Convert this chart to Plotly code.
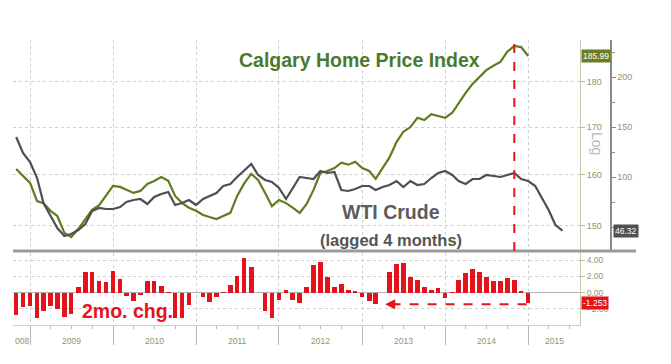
import math
import pandas as pd
import plotly.graph_objects as go

# ---------------- data ----------------
months = pd.date_range("2008-11-01", periods=80, freq="MS")   # Nov 2008 .. Jun 2015

home_price = [161.2, 159.8, 158.4, 154.8, 154.4, 152.9, 151.9, 148.7, 147.9, 149.4,
              151.3, 153.1, 154.0, 155.8, 157.8, 157.6, 157.0, 156.4, 156.8, 158.2,
              158.8, 159.6, 158.8, 155.8, 154.4, 153.5, 152.9, 152.1, 151.7, 151.3,
              151.9, 152.5, 155.8, 158.3, 160.2, 159.0, 156.4, 153.8, 155.0, 154.4,
              153.5, 152.5, 154.2, 157.0, 160.4, 160.8, 161.4, 162.5, 162.1, 162.7,
              161.4, 160.8, 159.2, 161.4, 163.6, 166.8, 169.0, 170.0, 172.0, 171.5,
              172.8, 172.4, 172.0, 173.1, 175.3, 177.5, 179.5, 181.1, 182.7, 183.7,
              184.6, 187.0, 188.4, 188.1, 185.99]

wti_lagged = [140, 124, 115, 99, 74, 61, 49, 41, 43, 47,
              53, 66, 69, 68, 68, 70, 75, 77, 78, 73,
              80, 83, 85, 72, 74, 77, 72, 78, 81, 84,
              91, 93, 100, 107, 113, 102, 97, 95, 89, 78,
              89, 100, 99, 98, 106, 104, 105, 87, 86, 88,
              91, 91, 87, 90, 92, 96, 90, 96, 92, 93,
              99, 104, 106, 102, 96, 93, 98, 98, 102, 101,
              100, 102, 104, 98, 96, 91, 79, 67, 52, 46.32]

chg_2mo = [-2.8, -1.8, -1.6, -3.1, -2.3, -1.6, -2.0, -3.0, -2.7, 0.7,
           2.5, 2.5, 1.4, 1.3, 2.7, 1.7, -0.4, -1.1, -0.3, 1.4,
           1.4, 0.75, 0.05, -3.1, -3.1, -1.5, -0.1, -0.5, -1.2, -0.6,
           0.05, 0.9, 2.1, 4.2, 3.2, -0.05, -2.3, -3.1, -0.95, 0.33,
           -0.9, -1.25, 0.65, 3.35, 3.8, 1.9, 0.67, 1.0, 0.33, 0.25,
           -0.5, -1.0, -1.35, -0.05, 2.5, 3.5, 3.7, 1.9, 1.6, 0.65,
           0.35, 0.55, -0.7, 0.02, 1.5, 2.45, 2.85, 2.5, 1.9, 1.4,
           1.4, 1.8, 1.6, 0.25, -1.253]

year_labels = ["008", "2009", "2010", "2011", "2012", "2013", "2014", "2015"]
year_starts = ["2008-01-01", "2009-01-01", "2010-01-01", "2011-01-01", "2012-01-01",
               "2013-01-01", "2014-01-01", "2015-01-01"]
home_ticks = [150, 160, 170, 180]
oil_ticks = [100, 150, 200]
chg_ticks = [-2, 0, 2, 4]
arrow_span = ["2014-12-25", "2013-04-12"]   # dashed arrow in lower panel (from, to)

# ---------------- layout helpers ----------------
W, H = 671, 364
L, R, T, B = 13, 31, 40, 39
PW, PH = W - L - R, H - T - B
def px_x(x): return (x - L) / PW
def px_y(y): return (H - B - y) / PH

x_range = [pd.Timestamp("2008-10-18"), pd.Timestamp("2015-08-17")]
FONT = "Liberation Sans, Arial, sans-serif"
GREEN = "#5e7d1e"
GREY = "#4f4f52"
RED = "#e3121b"
TICKC = "#8f9470"
GRIDC = "#cfcfcf"

n_home = len(home_price)
n_chg = len(chg_2mo)

fig = go.Figure()
fig.add_trace(go.Scatter(x=months[:len(wti_lagged)], y=wti_lagged, mode="lines",
                         line=dict(color=GREY, width=2.2), xaxis="x", yaxis="y2",
                         hoverinfo="skip"))
fig.add_trace(go.Scatter(x=months[:n_home], y=home_price, mode="lines",
                         line=dict(color=GREEN, width=2.2), xaxis="x", yaxis="y",
                         hoverinfo="skip"))
fig.add_trace(go.Bar(x=months[:n_chg], y=chg_2mo, marker=dict(color=RED, line=dict(width=0)),
                     width=20 * 24 * 3600 * 1000, xaxis="x2", yaxis="y3",
                     hoverinfo="skip"))

xdom = [0, px_x(580)]
top_dom = [px_y(250), 1]
bot_dom = [0, px_y(253)]

fig.update_layout(
    width=W, height=H,
    margin=dict(l=L, r=R, t=T, b=B),
    paper_bgcolor="white", plot_bgcolor="white",
    showlegend=False, hovermode=False,
    font=dict(family=FONT, size=9, color=TICKC),
    xaxis=dict(domain=xdom, type="date", range=x_range, anchor="y",
               showticklabels=False, ticks="", showline=False, zeroline=False,
               showgrid=True, gridcolor=GRIDC, griddash="dot", gridwidth=1,
               dtick="M12", tick0="2009-01-01", matches="x2"),
    xaxis2=dict(domain=xdom, type="date", range=x_range, anchor="y3",
                showticklabels=False, ticks="outside", ticklen=19, tickcolor="#b8b8b8",
                tickwidth=1, dtick="M12", tick0="2009-01-01",
                showline=True, linecolor="#cccccc", linewidth=1, zeroline=False,
                showgrid=True, gridcolor=GRIDC, griddash="dot", gridwidth=1,
                minor=dict(dtick="M3", ticks="outside", ticklen=3, tickcolor="#b8b8b8",
                           showgrid=False)),
    yaxis=dict(domain=top_dom, type="log", anchor="x", side="right",
               range=[math.log10(145.5), math.log10(189.8)],
               tickvals=home_ticks, ticks="outside", ticklen=4, tickcolor="#b9bd98",
               showline=True, linecolor="#c5c9a5", linewidth=1,
               showgrid=True, gridcolor=GRIDC, griddash="dot", gridwidth=1,
               zeroline=False, tickfont=dict(size=9, color=TICKC)),
    yaxis2=dict(overlaying="y", anchor="free", side="right", position=px_x(610),
                range=[27, 237], tickvals=oil_ticks, ticks="outside", ticklen=4,
                tickcolor="#8a8a8a", showline=True, linecolor="#8a8a8a", linewidth=1.5,
                showgrid=False, zeroline=False, tickfont=dict(size=9, color=TICKC),
                minor=dict(dtick=25, ticks="outside", ticklen=3, tickcolor="#8a8a8a")),
    yaxis3=dict(domain=bot_dom, anchor="x2", side="right", range=[-4.0, 4.875],
                tickvals=chg_ticks, tickformat=".2f", ticks="outside", ticklen=4,
                tickcolor="#b9bd98", showline=True, linecolor="#c5c9a5", linewidth=1,
                showgrid=True, gridcolor=GRIDC, griddash="dot", gridwidth=1,
                zeroline=True, zerolinecolor="#b0b0b0", zerolinewidth=1,
                tickfont=dict(size=8.5, color=TICKC)),
    bargap=0,
)

shapes = []
# separator between panels
shapes.append(dict(type="line", xref="paper", yref="paper", x0=0, x1=px_x(636),
                   y0=px_y(251), y1=px_y(251), line=dict(color="#9a9a9a", width=3)))
# red dashed vertical at the home price peak
peak_date = months[max(range(n_home), key=lambda i: home_price[i])]
shapes.append(dict(type="line", xref="x", yref="paper", x0=peak_date, x1=peak_date,
                   y0=px_y(251), y1=1, line=dict(color="#e8141c", width=2, dash="dash")))
# dashed arrow shaft in lower panel
shapes.append(dict(type="line", xref="x2", yref="y3", x0=arrow_span[0], x1=arrow_span[1],
                   y0=-1.45, y1=-1.45, line=dict(color="#e8141c", width=2, dash="dash")))
fig.update_layout(shapes=shapes)


def label(x, y, text, size, color, **kw):
    d = dict(xref="paper", yref="paper", x=px_x(x), y=px_y(y), text=text,
             showarrow=False, xanchor="center", yanchor="middle",
             font=dict(size=size, color=color, family=FONT))
    d.update(kw)
    return d


ann = []
ann.append(dict(xref="x2", yref="y3", x=arrow_span[1], y=-1.45, ax=14, ay=0,
                showarrow=True, arrowhead=2, arrowsize=1, arrowwidth=2,
                arrowcolor="#e8141c", text=""))
# titles
ann.append(label(359.5, 60, "<b>Calgary Home Price Index</b>", 19.5, "#4a7a2c"))
ann.append(label(390.5, 212, "<b>WTI Crude</b>", 19.5, "#5c5c5c"))
ann.append(label(391.4, 239.5, "<b>(lagged 4 months)</b>", 16.5, "#555555"))
ann.append(label(127.5, 311, "<b>2mo. chg.</b>", 19.5, RED))
ann.append(label(597, 143, "Log", 14, "#b8b8b8", textangle=90))
# last-value badges
ann.append(dict(xref="paper", yref="y", x=px_x(581), y=math.log10(home_price[-1]),
                xanchor="left", yanchor="middle", text=f"{home_price[-1]:.2f}",
                showarrow=False, bgcolor="#6a7d22", borderpad=1,
                font=dict(size=8.5, color="white", family=FONT)))
ann.append(dict(xref="paper", yref="y2", x=px_x(613), y=wti_lagged[-1],
                xanchor="left", yanchor="middle", text=f"{wti_lagged[-1]:.2f}",
                showarrow=False, bgcolor="#505050", borderpad=1,
                font=dict(size=8.5, color="white", family=FONT)))
ann.append(dict(xref="paper", yref="y3", x=px_x(581), y=chg_2mo[-1],
                xanchor="left", yanchor="middle", text=f"{chg_2mo[-1]:.3f}",
                showarrow=False, bgcolor=RED, borderpad=1,
                font=dict(size=8.5, color="white", family=FONT)))
# year labels centred on the visible part of each year
for lab, ys in zip(year_labels, year_starts):
    s = max(pd.Timestamp(ys), x_range[0])
    e = min(pd.Timestamp(ys) + pd.DateOffset(years=1), x_range[1])
    mid = s + (e - s) / 2
    ann.append(dict(xref="x2", yref="paper", x=mid, y=px_y(341), text=lab,
                    xanchor="center", yanchor="middle",
                    showarrow=False, font=dict(size=8.5, color=TICKC, family=FONT)))
fig.update_layout(annotations=ann)

fig.write_html("out.html", post_script="document.body.style.margin='0px';",
               config={"displayModeBar": False, "staticPlot": True})
